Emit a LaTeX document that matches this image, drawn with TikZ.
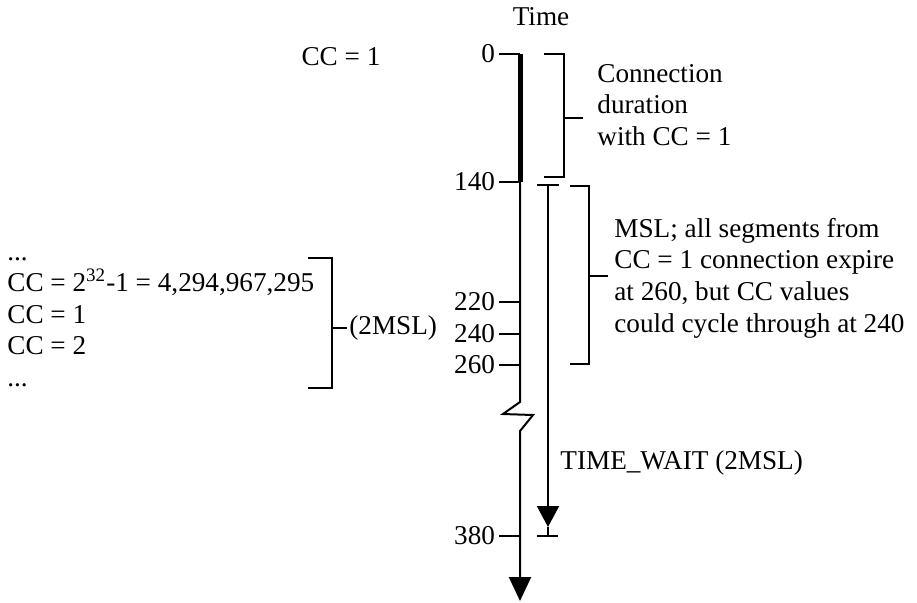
\documentclass[tikz,border=0pt]{standalone}
\usepackage{fontspec}
\setmainfont{Liberation Serif}
\usetikzlibrary{arrows.meta, calc, positioning}

\begin{document}
\begin{tikzpicture}[
        x=0.5pt, y=-0.5pt,
        every node/.style={font=\fontsize{13.6}{15.8}\selectfont, inner sep=1pt},
        axis/.style={line width=1pt},
        tick/.style={line width=1pt},
        brack/.style={line width=1pt},
        ticklabel/.style={left, inner sep=1.5pt},
        note/.style={right, align=left},
      ]
      \useasboundingbox (0,0) rectangle (917,602);

      % Zeitachse
      \coordinate (t0)   at (520,54);
      \coordinate (t140) at (520,182);
      \coordinate (t220) at (520,302);
      \coordinate (t240) at (520,334);
      \coordinate (t260) at (520,365);
      \coordinate (t380) at (520,536);
      \coordinate (tend) at (520,601);

      \node (time) at (541,17) {Time};
      \node (ccone) at (341,57) {CC = 1};

      % Verbindung mit CC = 1 (dick)
      \draw[line width=2.5pt] (t0) -- (t140);
      % Achse mit Bruch
      \draw[axis, -{Triangle[length=12pt,width=11pt]}]
        (t140) -- (520,402) -- (503,414) -- (533,415) -- (520,431) -- (tend);

      \foreach \v in {0,140,220,240,260,380} {
        \draw[tick] (t\v) -- ++(-21,0) node[ticklabel] (lab\v) {\v};
      }

      % TIME_WAIT Pfeil
      \coordinate (tw0) at (548,185);
      \coordinate (tw1) at (548,527);
      \draw[axis, -{Triangle[length=10.5pt,width=11pt]}] (tw0) -- (tw1);
      \draw[tick] ($(tw0)+(-11,0)$) -- ++(22,0);
      \draw[tick] (548,527) -- (548,536);
      \draw[tick] (537,536) -- (558,536);
      \node[note] (twlabel) at (558,463) {TIME\_WAIT (2MSL)};

      % Klammer: Verbindungsdauer
      \draw[brack] (544,54) -- (564,54) -- (564,177) -- (544,177);
      \draw[brack] (564,118) -- (583,118);
      \node[note] (dur) at (595,105) {Connection\\duration\\with CC = 1};

      % Klammer: MSL
      \draw[brack] (570,186) -- (589,186) -- (589,364) -- (570,364);
      \draw[brack] (589,276) -- (608,276);
      \node[note] (msl) at (612,278)
        {MSL; all segments from\\CC = 1 connection expire\\at 260, but CC values\\could cycle through at 240};

      % Klammer: 2MSL links
      \draw[brack] (308,258) -- (332,258) -- (332,388) -- (308,388);
      \draw[brack] (332,328) -- (347,328);
      \node[note] (twomsl) at (347,328) {(2MSL)};
      \node[note] (cclist) at (5,322)
        {...\\CC = 2\textsuperscript{32}-1 = 4,294,967,295\\CC = 1\\CC = 2\\...};
    \end{tikzpicture}
\end{document}
